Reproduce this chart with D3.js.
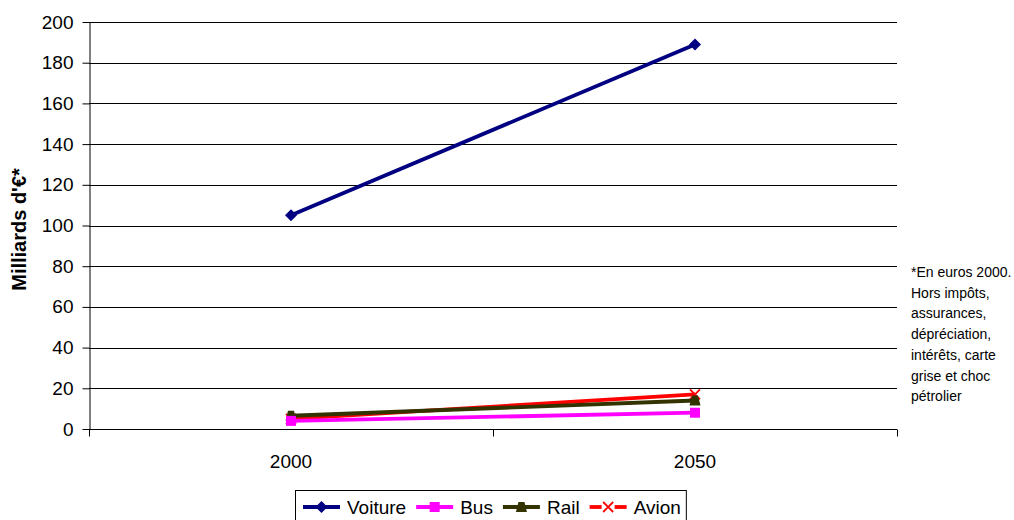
<!DOCTYPE html>
<html>
<head>
<meta charset="utf-8">
<script src="https://cdn.jsdelivr.net/npm/d3@7"></script>
<style>
  body { margin: 0; background: #fff; }
  text { font-family: "Liberation Sans", Arial, sans-serif; }
</style>
</head>
<body>
<svg id="chart" width="1014" height="520"></svg>
<script>
// Coûts annuels par mode de transport (milliards d'euros 2000)
const years = ["2000", "2050"];
const voiture = [105, 189];
const bus = [4, 8];
const rail = [6.5, 14];
const avion = [5, 17];
const yTicks = [0, 20, 40, 60, 80, 100, 120, 140, 160, 180, 200];
const noteLines = ["*En euros 2000.", "Hors impôts,", "assurances,", "dépréciation,", "intérêts, carte", "grise et choc", "pétrolier"];

const series = [
  { name: "Voiture", values: voiture, color: "#000080", marker: "diamond" },
  { name: "Bus", values: bus, color: "#FF00FF", marker: "square" },
  { name: "Rail", values: rail, color: "#333300", marker: "triangle" },
  { name: "Avion", values: avion, color: "#FF0000", marker: "cross" }
];

const svg = d3.select("#chart");
const plotL = 89, plotR = 897, plotT = 22, plotB = 429;
const FONT = "'Liberation Sans', Arial, sans-serif";

const x = d3.scaleBand().domain(years).range([plotL, plotR]);
const y = d3.scaleLinear().domain([0, 200]).range([plotB, plotT]);

// horizontal gridlines
svg.append("g").selectAll("line").data(yTicks.filter(d => d > 0)).join("line")
  .attr("x1", plotL).attr("x2", plotR)
  .attr("y1", d => Math.round(y(d)) + 0.5).attr("y2", d => Math.round(y(d)) + 0.5)
  .attr("stroke", "#000").attr("stroke-width", 1);

// y axis
const yAxis = svg.append("g").attr("transform", `translate(${plotL + 0.5},0)`)
  .call(d3.axisLeft(y).tickValues(yTicks).tickSize(7).tickPadding(9).tickSizeOuter(0));
yAxis.select(".domain").attr("stroke", "#000");
yAxis.selectAll(".tick line").attr("stroke", "#000");
yAxis.selectAll(".tick text").attr("font-size", 19).attr("fill", "#000")
  .style("font-family", FONT);

// x axis (ticks on category boundaries)
const xAxisG = svg.append("g").attr("transform", `translate(0,${plotB + 0.5})`);
xAxisG.append("line").attr("x1", plotL).attr("x2", plotR).attr("stroke", "#000");
const bounds = years.map(d => x(d)).concat([x(years[years.length - 1]) + x.bandwidth()]);
xAxisG.selectAll("line.tk").data(bounds).join("line").attr("class", "tk")
  .attr("x1", d => Math.round(d) + 0.5).attr("x2", d => Math.round(d) + 0.5)
  .attr("y1", 0).attr("y2", 7).attr("stroke", "#000");
xAxisG.selectAll("text").data(years).join("text")
  .attr("x", d => x(d) + x.bandwidth() / 2).attr("y", 38)
  .attr("text-anchor", "middle").attr("font-size", 19).attr("fill", "#000")
  .text(d => d);

// axis title
svg.append("text")
  .attr("transform", `translate(26,${(plotT + plotB) / 2 + 4}) rotate(-90)`)
  .attr("text-anchor", "middle").attr("font-size", 20).attr("font-weight", "bold")
  .text("Milliards d'€*");

const cx = d => x(d) + x.bandwidth() / 2;

function drawMarker(g, type, color, px, py) {
  if (type === "diamond") {
    g.append("path").attr("d", `M${px},${py - 6}L${px + 6},${py}L${px},${py + 6}L${px - 6},${py}Z`).attr("fill", color);
  } else if (type === "square") {
    g.append("rect").attr("x", px - 5).attr("y", py - 5).attr("width", 10).attr("height", 10).attr("fill", color);
  } else if (type === "triangle") {
    g.append("path").attr("d", `M${px - 3},${py - 5}L${px + 3},${py - 5}L${px + 5.5},${py + 5}L${px - 5.5},${py + 5}Z`).attr("fill", color);
  } else if (type === "cross") {
    g.append("path").attr("d", `M${px - 5},${py - 5}L${px + 5},${py + 5}M${px + 5},${py - 5}L${px - 5},${py + 5}`)
      .attr("stroke", color).attr("stroke-width", 1.8).attr("fill", "none");
  }
}

// lines and markers, drawn from back to front
const line = d3.line().x((d, i) => cx(years[i])).y(d => y(d));
[...series].reverse().forEach(s => {
  const g = svg.append("g");
  g.append("path").datum(s.values).attr("d", line)
    .attr("fill", "none").attr("stroke", s.color).attr("stroke-width", 3.8);
  s.values.forEach((v, i) => drawMarker(g, s.marker, s.color, cx(years[i]), y(v)));
});

// note on the right
svg.append("g").selectAll("text").data(noteLines).join("text")
  .attr("x", 911).attr("y", (d, i) => 277 + i * 20.7)
  .attr("font-size", 14).attr("fill", "#000").text(d => d);

// legend
const leg = svg.append("g");
const legTop = 490, legLeft = 295;
let lx = legLeft + 8;
const items = leg.append("g");
series.forEach(s => {
  const ly = 507;
  const g = items.append("g");
  if (s.marker === "cross") {
    // dashed look: short segments on both sides of the cross
    g.append("line").attr("x1", lx).attr("x2", lx + 12).attr("y1", ly).attr("y2", ly)
      .attr("stroke", s.color).attr("stroke-width", 3.8);
    g.append("line").attr("x1", lx + 25).attr("x2", lx + 37).attr("y1", ly).attr("y2", ly)
      .attr("stroke", s.color).attr("stroke-width", 3.8);
  } else {
    g.append("line").attr("x1", lx).attr("x2", lx + 37).attr("y1", ly).attr("y2", ly)
      .attr("stroke", s.color).attr("stroke-width", 3.8);
  }
  drawMarker(g, s.marker, s.color, lx + 18.5, ly);
  const t = items.append("text").attr("x", lx + 44).attr("y", ly + 7)
    .attr("font-size", 19).attr("fill", "#000").text(s.name);
  lx += 44 + t.node().getComputedTextLength() + 10;
});
leg.insert("rect", ":first-child")
  .attr("x", legLeft + 0.5).attr("y", legTop + 0.5)
  .attr("width", lx - legLeft - 5).attr("height", 40)
  .attr("fill", "#fff").attr("stroke", "#000");
</script>
</body>
</html>
